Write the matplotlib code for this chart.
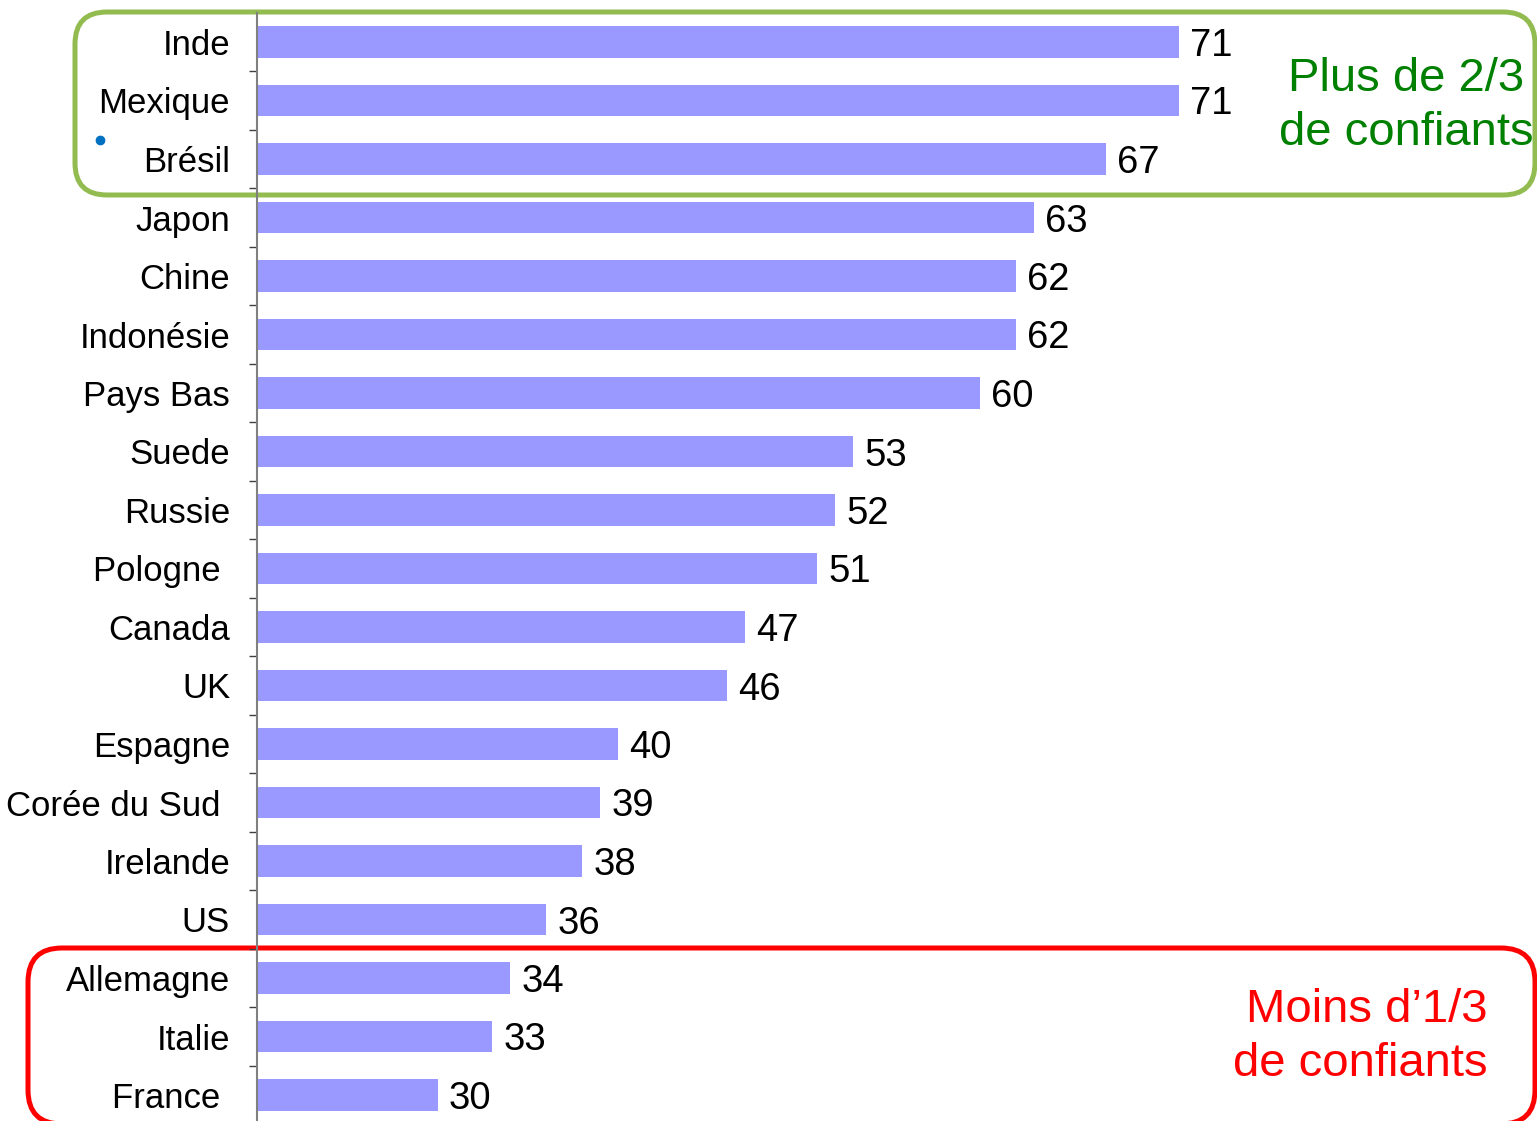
import matplotlib
matplotlib.use("Agg")
import matplotlib.pyplot as plt
import matplotlib.transforms as mtransforms
from matplotlib.patches import FancyBboxPatch

plt.rcParams["font.family"] = ["Liberation Sans", "DejaVu Sans"]

COUNTRIES = ["Inde", "Mexique", "Brésil", "Japon", "Chine", "Indonésie", "Pays Bas",
             "Suede", "Russie", "Pologne ", "Canada", "UK", "Espagne", "Corée du Sud ",
             "Irelande", "US", "Allemagne", "Italie", "France "]
VALUES = [71, 71, 67, 63, 62, 62, 60, 53, 52, 51, 47, 46, 40, 39, 38, 36, 34, 33, 30]

TOP_NOTE = "Plus de 2/3\nde confiants"
BOTTOM_NOTE = "Moins d\u20191/3\nde confiants"

W, H = 1537, 1121
BAR_COLOR = "#9999FF"


def main():
    fig = plt.figure(figsize=(W / 100, H / 100), dpi=100)
    ax = fig.add_axes([257 / W, 1 - 1124.25 / H, 1 - 257 / W, 1111.5 / H])
    ax.patch.set_alpha(0)
    ax.set_zorder(1)

    pos = range(len(VALUES))
    ax.barh(pos, VALUES, height=0.53, color=BAR_COLOR, zorder=2)
    for y, v in zip(pos, VALUES):
        ax.text(v + 0.62, y, str(v), ha="left", va="center_baseline",
                fontsize=27.5, color="black")

    # the value axis starts at 20, not at 0
    ax.set_xlim(20, 20 + 1280 / 18.07)
    ax.set_ylim(len(VALUES) - 0.5, -0.5)

    ax.set_yticks(list(pos))
    ax.set_yticklabels(COUNTRIES, fontsize=25)
    ax.tick_params(axis="y", which="major", length=0, pad=19.4)
    ax.set_yticks([k + 0.5 for k in range(len(VALUES) - 1)], minor=True)
    ax.tick_params(axis="y", which="minor", length=6, width=1.0, color="#404040")
    ax.set_xticks([])

    for side in ["top", "right", "bottom"]:
        ax.spines[side].set_visible(False)
    ax.spines["left"].set_color("#808080")
    ax.spines["left"].set_linewidth(1.5)

    # pixel coordinates, origin at top-left
    px = mtransforms.Affine2D().scale(1 / W, -1 / H).translate(0, 1) + fig.transFigure

    # white-filled boxes behind the (transparent) axes; a filled path avoids
    # Agg's clipping glitch on the red box that runs off the bottom edge
    green = FancyBboxPatch((75, 12), 1460, 183,
                           boxstyle="round,pad=0,rounding_size=32",
                           facecolor="white", edgecolor="#92BB50", linewidth=3.6,
                           transform=px, clip_on=False, zorder=-1)
    red = FancyBboxPatch((28, 948), 1507, 176,
                         boxstyle="round,pad=0,rounding_size=34",
                         facecolor="white", edgecolor="#FF0000", linewidth=3.6,
                         transform=px, clip_on=False, zorder=-1)
    fig.add_artist(green)
    fig.add_artist(red)

    fig.text(1406 / W, 1 - 106 / H, TOP_NOTE, ha="center", va="center",
             fontsize=34, color="#008000", linespacing=1.3, zorder=3)
    fig.text(1360 / W, 1 - 1037 / H, BOTTOM_NOTE, ha="center", va="center",
             fontsize=34, color="#FF0000", linespacing=1.3, multialignment="right",
             zorder=3)

    # stray bullet next to Brésil
    fig.add_artist(plt.Line2D([100 / W], [1 - 140 / H], marker="o", markersize=6,
                              color="#0070C0", linestyle="none",
                              transform=fig.transFigure, zorder=3))

    fig.savefig("out.png", dpi=100)


if __name__ == "__main__":
    main()
